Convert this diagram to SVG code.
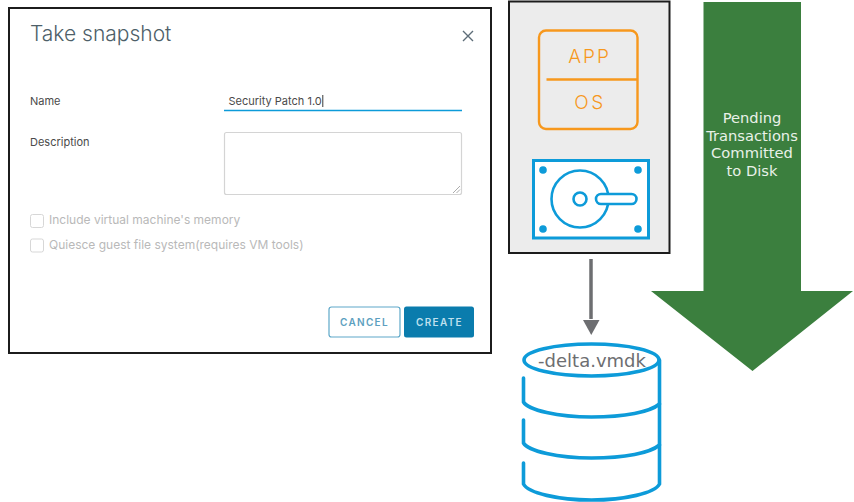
<svg xmlns="http://www.w3.org/2000/svg" width="854" height="502" viewBox="0 0 854 502">
<style>
.ui{font-family:"Inter","Open Sans",sans-serif;}
.lbl{font-size:11px;fill:#4a4a4a;}
.dis{font-size:12px;fill:#b9b9b9;}
.chk{fill:#fff;stroke:#d7d7d7;stroke-width:1;}
.or{fill:none;stroke:#f7981d;stroke-width:2.4;}
.bl{fill:none;stroke:#0d9bd9;stroke-linecap:round;stroke-width:3.600;}
.dot{fill:#0d9bd9;}
.dv{font-family:"DejaVu Sans",sans-serif;}
</style>
<g id="dialog">
<rect x="9" y="8" width="482" height="345" fill="#fff" stroke="#1c1c1c" stroke-width="2"/>
<text class="ui" x="30" y="41" font-size="21" font-weight="300" fill="#4e5f69">Take snapshot</text>
<path d="M463 31l10 10M473 31l-10 10" stroke="#5d6d78" stroke-width="1.4" fill="none"/>
<text class="ui lbl" x="30" y="105">Name</text>
<text class="ui" x="228.500" y="105" font-size="11" fill="#4a4a4a">Security Patch 1.0</text>
<path d="M322.800 95v12" stroke="#222" stroke-width="0.900"/>
<path d="M224 110.500h238" stroke="#0d9bd9" stroke-width="1.600"/>
<text class="ui lbl" x="30" y="145.500">Description</text>
<rect x="224.500" y="132.500" width="237" height="62" rx="2" fill="#fff" stroke="#d4d4d4" stroke-width="1.200"/>
<path d="M453 193l7-7M456.500 193l3.500-3.500" stroke="#888" stroke-width="0.700" fill="none"/>
<rect class="chk" x="30.500" y="214.500" width="13" height="13" rx="2"/>
<text class="ui dis" x="49" y="224">Include virtual machine's memory</text>
<rect class="chk" x="30.500" y="239" width="13" height="13" rx="2"/>
<text class="ui dis" x="49" y="248.500">Quiesce guest file system(requires VM tools)</text>
<rect x="329" y="307" width="71" height="30" rx="2.500" fill="#fff" stroke="#5ea8c9" stroke-width="1.200"/>
<text class="ui" x="364.500" y="325.500" font-size="10" letter-spacing="1.300" font-weight="600" fill="#5d9fc0" text-anchor="middle">CANCEL</text>
<rect x="404" y="306.500" width="70" height="31" rx="2.500" fill="#0a7cad"/>
<text class="ui" x="439.500" y="325.500" font-size="10" letter-spacing="1.300" font-weight="600" fill="#bfe0ee" text-anchor="middle">CREATE</text>
</g>
<g id="vm">
<rect x="509" y="1.500" width="160.500" height="251.500" fill="#ececec" stroke="#1c1c1c" stroke-width="2"/>
<rect class="or" x="539" y="30.500" width="98.500" height="98.500" rx="7"/>
<path class="or" d="M546.500 79.500h90.500"/>
<text class="ui" x="589.500" y="63" font-size="19" font-weight="300" letter-spacing="2" fill="#f7981d" text-anchor="middle">APP</text>
<text class="ui" x="590" y="108.500" font-size="19" font-weight="300" letter-spacing="2.500" fill="#f7981d" text-anchor="middle">OS</text>
<rect x="533.500" y="160.500" width="115" height="77.500" fill="#fff" stroke="#0d9bd9" stroke-width="3"/>
<circle class="dot" cx="543" cy="170" r="3.800"/><circle class="dot" cx="638" cy="170" r="3.800"/>
<circle class="dot" cx="543" cy="229" r="3.800"/><circle class="dot" cx="638" cy="229" r="3.800"/>
<circle cx="580" cy="199" r="28.500" fill="none" stroke="#0d9bd9" stroke-width="2.600"/>
<circle cx="580" cy="199" r="6.500" fill="#fff" stroke="#0d9bd9" stroke-width="2.600"/>
<rect x="596" y="194" width="40.500" height="10" rx="5" fill="#fff" stroke="#0d9bd9" stroke-width="2.600"/>
</g>
<g id="connectors">
<path d="M591 259v60" stroke="#6d6e71" stroke-width="3.500" fill="none"/>
<path d="M583 320h16.500l-8.250 15z" fill="#6d6e71"/>
</g>
<g id="disk">
<ellipse cx="591.500" cy="360" rx="67.500" ry="16" fill="#fff" stroke="#0d9bd9" stroke-width="3.600"/>
<path class="bl" d="M659.500 360V484C655 493 625 500 591.500 500S528 493 523.500 484V463"/>
<path class="bl" d="M523.500 378V402C528 410 558 417 591.500 417S650 412 659.500 404"/>
<path class="bl" d="M523.500 420V443C528 451 558 458 591.500 458S650 453 659.500 445"/>
<text class="dv" x="592" y="367" font-size="18" fill="#6d6e71" text-anchor="middle">-delta.vmdk</text>
</g>
<g id="commit-arrow">
<path d="M703.500 2H801V291H853L752.500 371 651 291H703.500Z" fill="#3b7f3e"/>
<g class="dv" font-size="14.700" fill="#e9f1e9" text-anchor="middle">
<text x="752" y="123">Pending</text>
<text x="752" y="140.500">Transactions</text>
<text x="752" y="158">Committed</text>
<text x="752" y="175.500">to Disk</text>
</g>
</g>
</svg>
